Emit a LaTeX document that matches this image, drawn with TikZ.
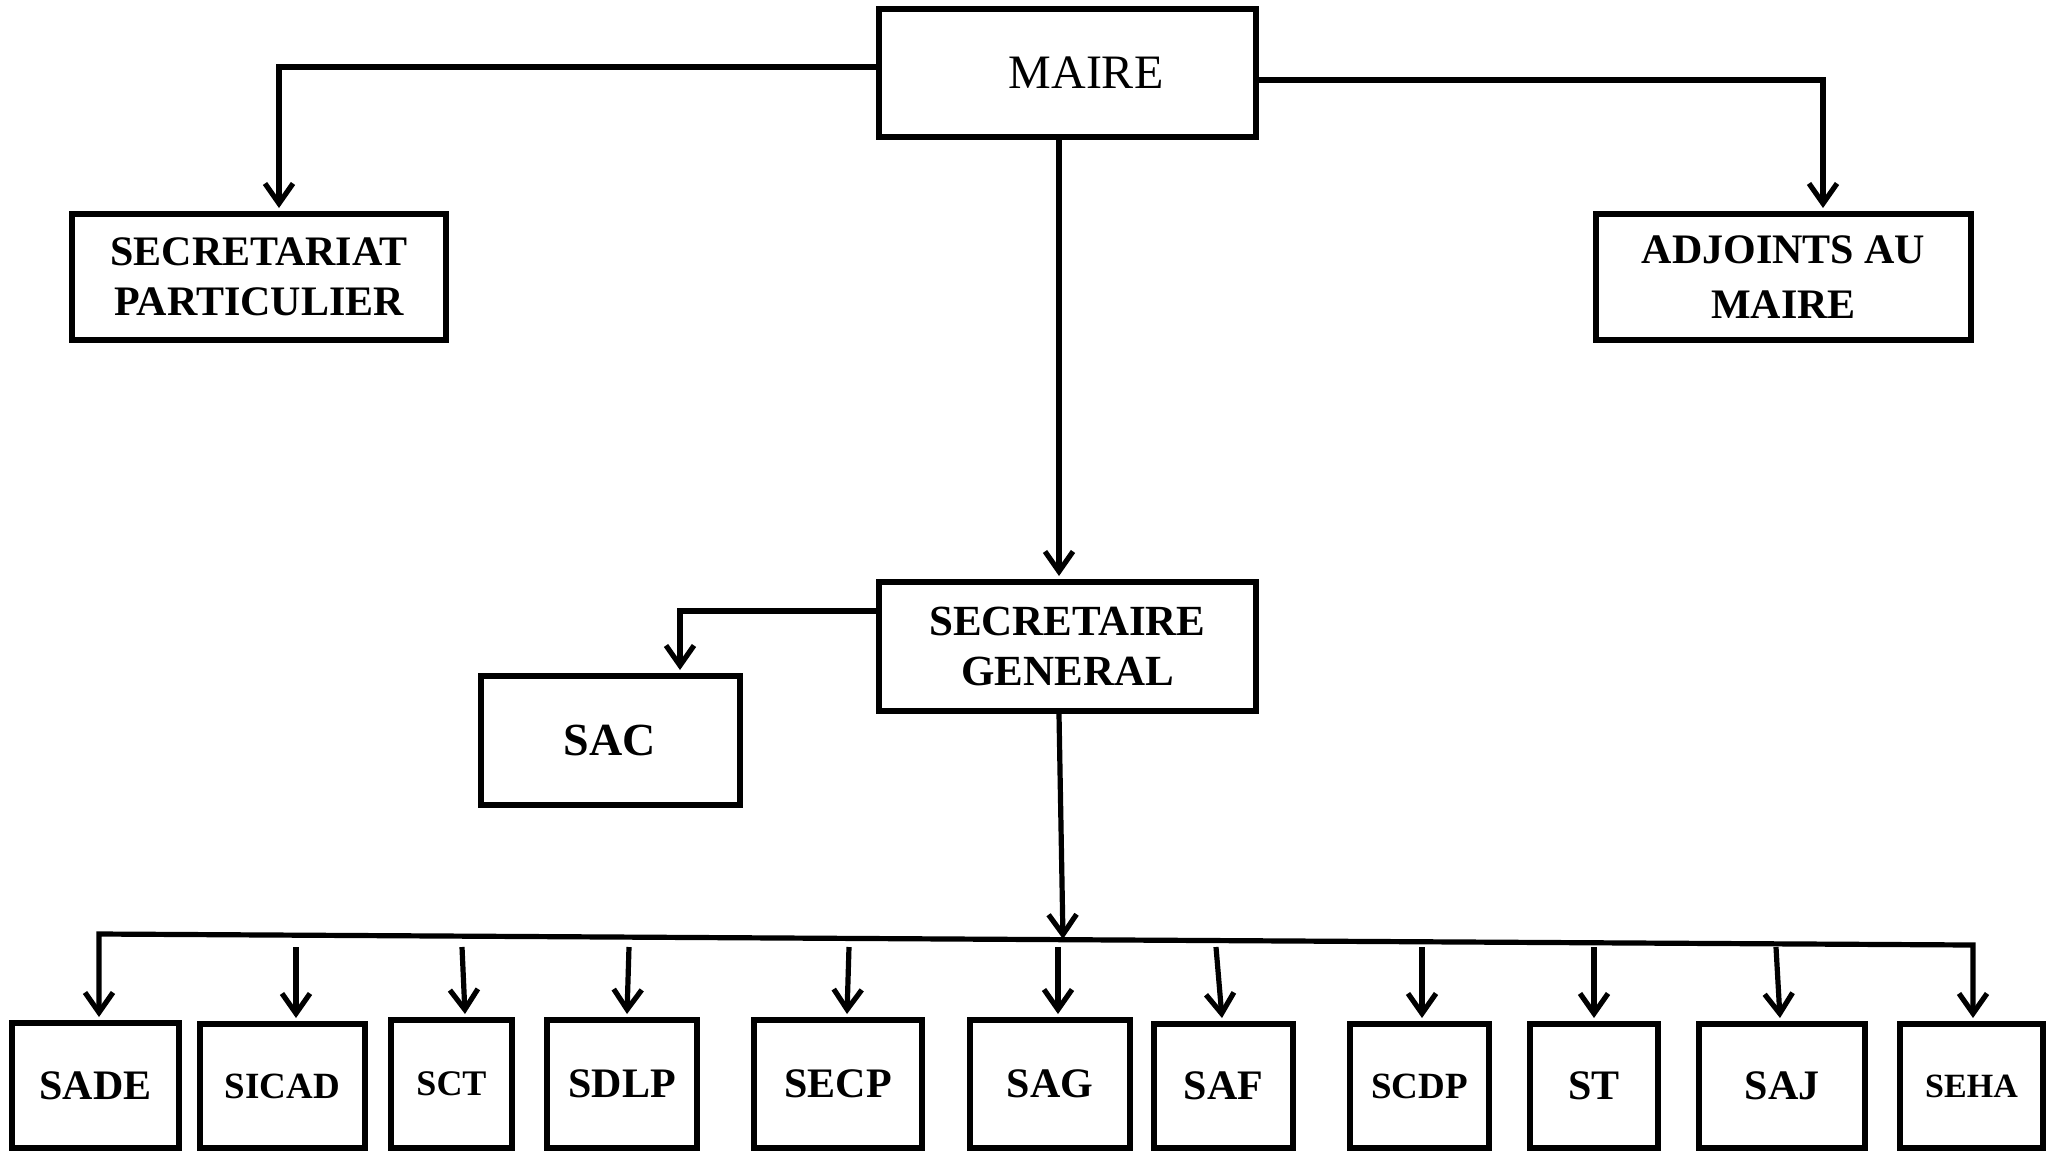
\documentclass[tikz,border=0pt]{standalone}
\usepackage{fontspec}
\setmainfont{Liberation Serif}
\usetikzlibrary{arrows.meta,calc}
\begin{document}
\begin{tikzpicture}[x=0.5pt,y=-0.5pt,
  box/.style={draw,line width=3pt,inner sep=0pt,align=center},
  fA/.style={font=\fontsize{21}{25}\selectfont\bfseries},
  fB/.style={font=\fontsize{18.5}{22}\selectfont\bfseries},
  fC/.style={font=\fontsize{17}{20}\selectfont\bfseries},
  tip/.tip={Straight Barb[length=10pt,width=14pt]},
  conn/.style={line width=2.6pt,line join=miter,-tip},
  bar/.style={line width=2.6pt,line join=miter}]
\useasboundingbox (0,0) rectangle (2062,1153);
\fill[white] (0,0) rectangle (2062,1153);

% top level
\node[box,font=\fontsize{24}{28}\selectfont,minimum width=188.5pt,minimum height=64pt] (maire) at (1067.5,73) {\hspace*{18.5pt}MAIRE};
\node[box,fA,minimum width=187pt,minimum height=63pt] (secpart) at (259,277) {SECRETARIAT\\PARTICULIER};
\node[box,font=\fontsize{21}{27.5}\selectfont\bfseries,minimum width=187.5pt,minimum height=63pt] (adj) at (1783.5,277) {ADJOINTS AU\\MAIRE};
\node[box,font=\fontsize{21.5}{25}\selectfont\bfseries,minimum width=188.5pt,minimum height=64.5pt] (sg) at (1067.5,646.5) {SECRETAIRE\\GENERAL};
\node[box,font=\fontsize{23}{27}\selectfont\bfseries,minimum width=129.5pt,minimum height=64.5pt] (sac) at (610,740.5) {SAC};

% bottom row
\node[box,fA,minimum width=83.5pt,minimum height=62.5pt] (sade) at (95.5,1085.5) {SADE};
\node[box,fB,minimum width=82.5pt,minimum height=62pt] (sicad) at (282.5,1086) {SICAD};
\node[box,font=\fontsize{18}{22}\selectfont\bfseries,minimum width=60.5pt,minimum height=64pt] (sct) at (451.5,1084) {SCT};
\node[box,fA,minimum width=75pt,minimum height=64pt] (sdlp) at (622,1084) {SDLP};
\node[box,fA,minimum width=84pt,minimum height=64pt] (secp) at (838,1084) {SECP};
\node[box,fA,minimum width=80pt,minimum height=64pt] (sag) at (1050,1084) {SAG};
\node[box,fA,minimum width=69.5pt,minimum height=62pt] (saf) at (1223.5,1086) {SAF};
\node[box,fB,minimum width=69.5pt,minimum height=62pt] (scdp) at (1419.5,1086) {SCDP};
\node[box,fA,minimum width=64pt,minimum height=62pt] (st) at (1594,1086) {ST};
\node[box,fA,minimum width=83pt,minimum height=62pt] (saj) at (1782,1086) {SAJ};
\node[box,fC,minimum width=71.5pt,minimum height=62pt] (seha) at (1971.5,1086) {SEHA};

% connectors from MAIRE
\draw[conn] ($(maire.west)+(0,-6)$) -| ($(secpart.north)+(20,-3)$);
\draw[conn] ($(maire.east)+(0,7)$) -| ($(adj.north)+(39.5,-3)$);
\draw[conn] ($(maire.south)+(-8.5,0)$) -- ($(sg.north)+(-8.5,-3)$);

% connectors from SG
\draw[conn] ($(sg.west)+(0,-35.5)$) -| ($(sac.north)+(70,-3)$);
\coordinate (bj) at (1063,939);
\draw[conn] ($(sg.south)+(-8.5,0)$) -- (bj);

% distribution bar
\coordinate (barL) at (99,934);
\coordinate (barR) at (1973,945);
\draw[bar,tip-tip] ($(sade.north)+(3.5,-3)$) -- (barL) -- (barR) -- ($(seha.north)+(1.5,-3)$);

% drops from the bar
\coordinate (t1) at (296,947);
\coordinate (t2) at (462,947);
\coordinate (t3) at (629,947);
\coordinate (t4) at (849,947);
\coordinate (t5) at (1058,947);
\coordinate (t6) at (1216,947);
\coordinate (t7) at (1422,947);
\coordinate (t8) at (1594,947);
\coordinate (t9) at (1776,947);
\draw[conn] (t1) -- ($(sicad.north)+(13.5,-3)$);
\draw[conn] (t2) -- ($(sct.north)+(13.5,-3)$);
\draw[conn] (t3) -- ($(sdlp.north)+(5,-3)$);
\draw[conn] (t4) -- ($(secp.north)+(9,-3)$);
\draw[conn] (t5) -- ($(sag.north)+(8,-3)$);
\draw[conn] (t6) -- ($(saf.north)+(-1.5,-3)$);
\draw[conn] (t7) -- ($(scdp.north)+(2.5,-3)$);
\draw[conn] (t8) -- ($(st.north)+(0,-3)$);
\draw[conn] (t9) -- ($(saj.north)+(-2,-3)$);
\end{tikzpicture}
\end{document}
